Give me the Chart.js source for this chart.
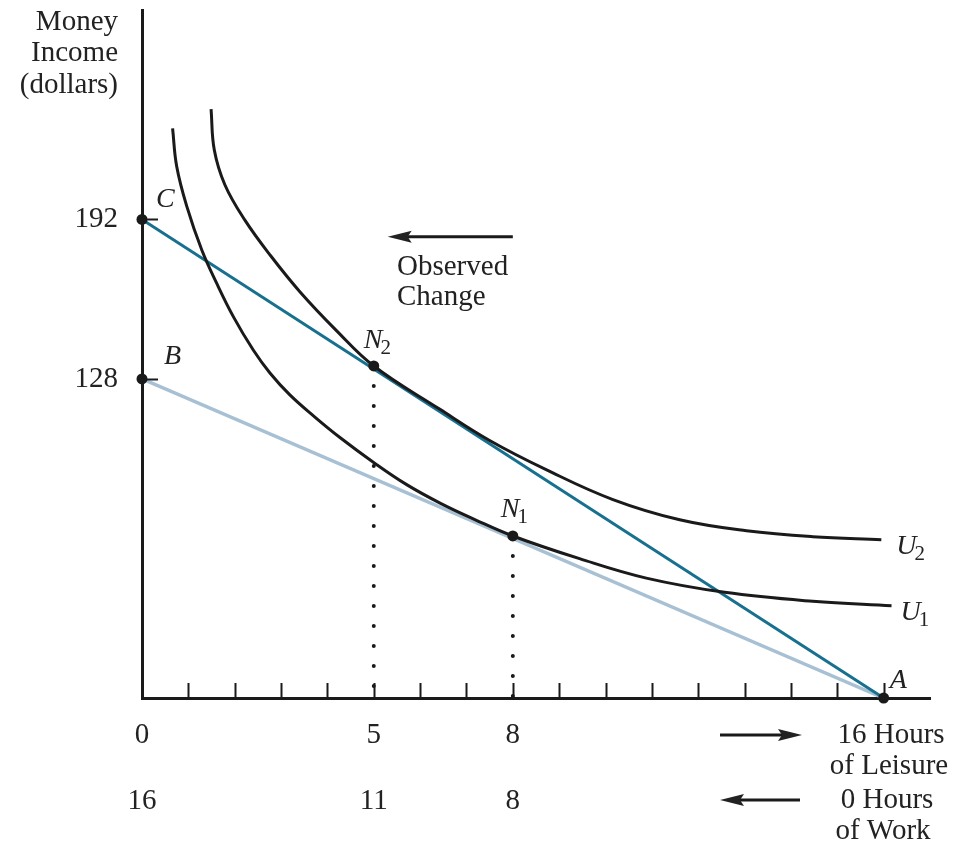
<!DOCTYPE html>
<html>
<head>
<meta charset="utf-8">
<script src="https://cdn.jsdelivr.net/npm/chart.js@4.4.1/dist/chart.umd.min.js"></script>
<style>
    body { margin: 0; background: #fff; }
    #wrap { width: 953px; height: 842px; }
</style>
</head>
<body>
<div id="wrap"><canvas id="leisureChart"></canvas></div>
<script>
// Labour-leisure choice: budget lines and indifference curves

const leisureTicks = [0, 5, 8];
const workTicks = [16, 11, 8];
const incomeTicks = [128, 192];
const hourMarks = [1, 2, 3, 4, 5, 6, 7, 8, 9, 10, 11, 12, 13, 14, 15, 16];

const budgetLeisure = [0, 16];
const incomeC = [192, 0];
const incomeB = [128, 0];

const pointNames = ['C', 'B', 'N2', 'N1', 'A'];
const pointLeisure = [0, 0, 5, 8, 16];
const pointIncome = [192, 128, 133.2, 65, 0];

const u1Leisure = [0.66, 0.75, 0.97, 1.29, 1.61, 1.97, 2.40, 2.76, 3.19, 3.73, 4.27, 4.99, 5.71, 6.43, 7.18, 8.0, 9.44, 10.88, 12.57, 14.47, 16.17];
const u1Income = [228.5, 213.1, 197.0, 179.7, 166.4, 153.0, 139.6, 130.4, 121.6, 112.7, 104.5, 94.6, 85.6, 78.2, 71.6, 65.0, 55.9, 48.1, 42.4, 38.8, 37.0];

const u2Leisure = [1.49, 1.56, 1.79, 2.22, 2.78, 3.41, 4.19, 5.0, 6.42, 7.5, 8.73, 10.16, 11.6, 13.04, 14.47, 15.95];
const u2Income = [236.2, 219.8, 205.8, 191.7, 177.3, 162.9, 147.5, 133.2, 115.9, 103.3, 91.5, 79.6, 71.5, 67.1, 64.7, 63.5];

const INK = '#1a1a1a';
const TEAL = '#18708f';
const PALE = '#a8c0d3';
const FONT = '"Liberation Serif", "Times New Roman", serif';

function xy(xs, ys) {
    return xs.map((x, i) => ({ x: x, y: ys[i] }));
}

function arrow(ctx, x1, y, x2) {
    const dir = Math.sign(x2 - x1);
    ctx.beginPath();
    ctx.moveTo(x1, y);
    ctx.lineTo(x2 - dir * 18, y);
    ctx.stroke();
    ctx.beginPath();
    ctx.moveTo(x2, y);
    ctx.lineTo(x2 - dir * 24, y - 6);
    ctx.lineTo(x2 - dir * 20, y);
    ctx.lineTo(x2 - dir * 24, y + 6);
    ctx.closePath();
    ctx.fill();
}

function italicLabel(ctx, name, px, py) {
    const main = name[0];
    const sub = name.slice(1);
    ctx.font = 'italic 28px ' + FONT;
    ctx.textAlign = 'left';
    ctx.textBaseline = 'middle';
    ctx.fillText(main, px, py);
    if (sub) {
        const w = ctx.measureText(main).width;
        ctx.font = '21px ' + FONT;
        ctx.fillText(sub, px + w - 2, py + 8);
    }
}

const decorations = {
    id: 'decorations',
    afterDraw(chart) {
        const ctx = chart.ctx;
        const xs = chart.scales.x;
        const ys = chart.scales.y;
        const x0 = xs.getPixelForValue(0);
        const yBase = ys.getPixelForValue(0);
        ctx.save();
        ctx.strokeStyle = INK;
        ctx.fillStyle = INK;
        ctx.lineWidth = 2;

        // hour marks on the leisure axis
        hourMarks.forEach(h => {
            const px = Math.round(xs.getPixelForValue(h)) + 0.5;
            ctx.beginPath();
            ctx.moveTo(px, yBase);
            ctx.lineTo(px, yBase - 15);
            ctx.stroke();
        });
        // income marks
        incomeTicks.forEach(v => {
            const py = Math.round(ys.getPixelForValue(v)) + 0.5;
            ctx.beginPath();
            ctx.moveTo(x0, py);
            ctx.lineTo(x0 + 16, py);
            ctx.stroke();
        });

        // axis title
        ctx.fillStyle = '#222';
        ctx.font = '29px ' + FONT;
        ctx.textAlign = 'right';
        ctx.textBaseline = 'middle';
        ctx.fillText('Money', 118, 22);
        ctx.fillText('Income', 118, 53);
        ctx.fillText('(dollars)', 118, 85);

        // observed change
        ctx.lineWidth = 3;
        arrow(ctx, xs.getPixelForValue(8.0), ys.getPixelForValue(185), xs.getPixelForValue(5.3));
        ctx.textAlign = 'left';
        ctx.fillText('Observed', 397, 267);
        ctx.fillText('Change', 397, 297);

        // bottom right notes
        arrow(ctx, 720, 735, 802);
        arrow(ctx, 800, 800, 720);
        ctx.textAlign = 'center';
        ctx.fillText('16 Hours', 891, 735);
        ctx.fillText('of Leisure', 889, 766);
        ctx.fillText('0 Hours', 887, 800);
        ctx.fillText('of Work', 883, 831);

        // point labels
        const offsets = { C: [14, -20], B: [22, -22], N2: [-10, -25], N1: [-12, -26], A: [6, -17] };
        pointNames.forEach((n, i) => {
            const px = xs.getPixelForValue(pointLeisure[i]);
            const py = ys.getPixelForValue(pointIncome[i]);
            italicLabel(ctx, n, px + offsets[n][0], py + offsets[n][1]);
        });
        const u2End = u2Leisure.length - 1;
        const u1End = u1Leisure.length - 1;
        italicLabel(ctx, 'U2', xs.getPixelForValue(u2Leisure[u2End]) + 15, ys.getPixelForValue(u2Income[u2End]) + 7);
        italicLabel(ctx, 'U1', xs.getPixelForValue(u1Leisure[u1End]) + 9, ys.getPixelForValue(u1Income[u1End]) + 7);
        ctx.restore();
    }
};

const ctx = document.getElementById('leisureChart').getContext('2d');
new Chart(ctx, {
    type: 'scatter',
    data: {
        datasets: [
            {
                label: 'Points',
                data: xy(pointLeisure, pointIncome),
                backgroundColor: INK,
                pointRadius: 5.5,
                pointBorderWidth: 0,
                clip: false
            },
            {
                label: 'U2',
                data: xy(u2Leisure, u2Income),
                showLine: true,
                pointRadius: 0,
                borderColor: INK,
                borderWidth: 3,
                tension: 0.4,
                clip: false
            },
            {
                label: 'U1',
                data: xy(u1Leisure, u1Income),
                showLine: true,
                pointRadius: 0,
                borderColor: INK,
                borderWidth: 3,
                tension: 0.4,
                clip: false
            },
            {
                label: 'Budget C',
                data: xy(budgetLeisure, incomeC),
                showLine: true,
                pointRadius: 0,
                borderColor: TEAL,
                borderWidth: 3
            },
            {
                label: 'Budget B',
                data: xy(budgetLeisure, incomeB),
                showLine: true,
                pointRadius: 0,
                borderColor: PALE,
                borderWidth: 3.5
            },
            {
                label: 'N2 drop',
                data: [{ x: pointLeisure[2], y: pointIncome[2] }, { x: pointLeisure[2], y: 0 }],
                showLine: true,
                pointRadius: 0,
                borderColor: INK,
                borderWidth: 4,
                borderDash: [0, 20],
                borderCapStyle: 'round'
            },
            {
                label: 'N1 drop',
                data: [{ x: pointLeisure[3], y: pointIncome[3] }, { x: pointLeisure[3], y: 0 }],
                showLine: true,
                pointRadius: 0,
                borderColor: INK,
                borderWidth: 4,
                borderDash: [0, 20],
                borderCapStyle: 'round'
            }
        ]
    },
    options: {
        responsive: true,
        maintainAspectRatio: false,
        animation: false,
        layout: { padding: { top: 10, right: 23, left: 0, bottom: 0 } },
        plugins: { legend: { display: false }, tooltip: { enabled: false } },
        scales: {
            x: {
                type: 'linear',
                min: 0,
                max: 17,
                afterFit: s => { s.height = 144; s.paddingLeft = 0; s.paddingRight = 0; },
                afterBuildTicks: s => { s.ticks = leisureTicks.map(v => ({ value: v })); },
                grid: { display: false, drawTicks: false },
                border: { display: true, color: INK, width: 3 },
                ticks: {
                    autoSkip: false,
                    maxRotation: 0,
                    padding: 4,
                    color: '#222',
                    font: { family: FONT, size: 29, lineHeight: 66 / 29 },
                    callback: v => [String(v), String(workTicks[leisureTicks.indexOf(v)])]
                }
            },
            y: {
                type: 'linear',
                min: 0,
                max: 276,
                afterFit: s => { s.width = 142; s.paddingTop = 0; s.paddingBottom = 0; },
                afterBuildTicks: s => { s.ticks = incomeTicks.map(v => ({ value: v })); },
                grid: { display: false, drawTicks: false },
                border: { display: true, color: INK, width: 3 },
                ticks: {
                    padding: 24,
                    color: '#222',
                    font: { family: FONT, size: 29 }
                }
            }
        }
    },
    plugins: [decorations]
});
</script>
</body>
</html>
